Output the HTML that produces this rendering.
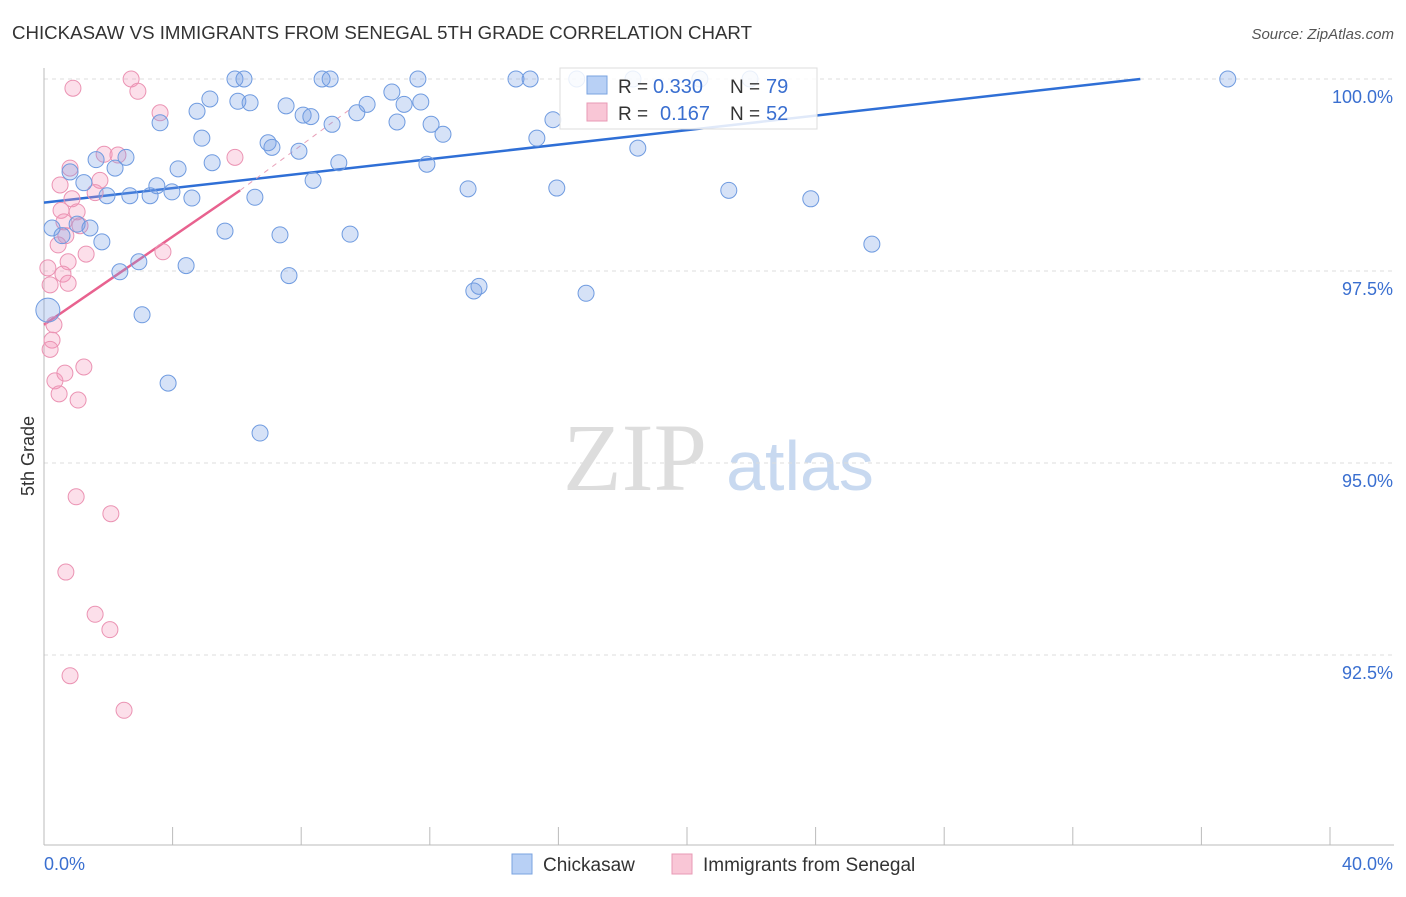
<!DOCTYPE html>
<html><head><meta charset="utf-8"><style>
body{margin:0;background:#fff;font-family:"Liberation Sans",sans-serif}
#wrap{position:relative;width:1406px;height:892px}
</style></head><body>
<div id="wrap">
<svg id="svg" width="1406" height="892" xmlns="http://www.w3.org/2000/svg">
<text x="12" y="39" font-size="18" fill="#333" textLength="740" lengthAdjust="spacingAndGlyphs">CHICKASAW VS IMMIGRANTS FROM SENEGAL 5TH GRADE CORRELATION CHART</text>
<text x="1394" y="39" font-size="15" fill="#555" text-anchor="end" font-style="italic">Source: ZipAtlas.com</text>
<text x="34" y="456" font-size="18" fill="#333" text-anchor="middle" transform="rotate(-90 34 456)">5th Grade</text>
<g><text x="635" y="490" font-size="96" font-family="Liberation Serif,serif" fill="#ddd" text-anchor="middle">ZIP</text><text x="800" y="490" font-size="70" fill="#c8d9f0" text-anchor="middle">atlas</text></g>
<g id="grid"></g><g id="axes"></g><g id="trend"></g><g id="pts"></g>
<g>
<rect x="560" y="68" width="257" height="61" fill="#fff" fill-opacity="0.85" stroke="#ddd"/>
<rect x="587" y="76" width="20" height="18" fill="#b8d0f5" stroke="#7aa3e0"/>
<rect x="587" y="103" width="20" height="18" fill="#f9c6d6" stroke="#e89ab5"/>
<text x="618" y="93" font-size="19" fill="#333">R =</text>
<text x="653" y="93" font-size="20" fill="#3a6fd0">0.330</text>
<text x="730" y="93" font-size="19" fill="#333">N =</text>
<text x="766" y="93" font-size="20" fill="#3a6fd0">79</text>
<text x="618" y="120" font-size="19" fill="#333">R =</text>
<text x="660" y="120" font-size="20" fill="#3a6fd0">0.167</text>
<text x="730" y="120" font-size="19" fill="#333">N =</text>
<text x="766" y="120" font-size="20" fill="#3a6fd0">52</text>
</g>
<g>
<rect x="512" y="854" width="20" height="20" fill="#b8d0f5" stroke="#7aa3e0"/>
<text x="543" y="871" font-size="19" fill="#333">Chickasaw</text>
<rect x="672" y="854" width="20" height="20" fill="#f9c6d6" stroke="#e89ab5"/>
<text x="703" y="871" font-size="19" fill="#333">Immigrants from Senegal</text>
</g>
</svg></div>
<script>
const yTicks=[100,97.5,95,92.5];
const yTickLabels=["100.0%","97.5%","95.0%","92.5%"];
const xTickVals=[0,4,8,12,16,20,24,28,32,36,40];
const blueX=[0.25,0.56,0.81,1.03,1.24,1.43,1.62,1.80,1.96,2.21,2.36,2.55,2.67,2.95,3.05,3.30,3.51,3.61,3.86,3.98,4.17,4.42,4.60,4.76,4.91,5.16,5.23,5.63,5.94,6.03,6.22,6.41,6.56,6.72,6.97,7.09,7.34,7.53,7.62,7.93,8.06,8.30,8.37,8.65,8.90,8.96,9.17,9.52,9.73,10.05,10.82,10.98,11.20,11.63,11.72,11.91,12.04,12.41,13.19,13.37,13.53,14.68,15.12,15.33,15.83,15.95,16.57,16.86,18.32,18.47,20.40,21.30,21.96,23.85,25.75,36.82,0.12];
const blueY=[98.06,97.96,98.79,98.11,98.65,98.06,98.95,97.88,98.48,98.84,97.49,98.98,98.48,97.62,96.93,98.48,98.61,99.43,96.04,98.53,98.83,97.57,98.45,99.58,99.23,99.74,98.91,98.02,100,99.71,100,99.69,98.46,95.39,99.17,99.11,97.97,99.65,97.44,99.06,99.53,99.51,98.68,100,100,99.41,98.91,97.98,99.56,99.67,99.83,99.44,99.67,100,99.70,98.89,99.41,99.28,98.57,97.24,97.30,100,100,99.23,99.47,98.58,100,97.21,100,99.10,100,98.55,100,98.44,97.85,100,96.99];
const pinkX=[0.90,2.71,2.92,3.61,0.81,0.50,0.87,0.53,1.03,0.62,1.12,0.68,1.31,0.75,0.59,0.75,0.44,0.12,0.19,0.25,0.19,0.34,0.65,1.24,0.47,1.06,1.00,2.08,0.68,1.59,2.05,0.81,2.49,1.87,2.30,1.74,1.59,3.70,5.94,0.31];
const pinkY=[99.88,100,99.84,99.56,98.84,98.62,98.44,98.29,98.27,98.14,98.09,97.96,97.72,97.62,97.46,97.34,97.84,97.54,97.32,96.60,96.48,96.07,96.17,96.25,95.90,95.82,94.56,94.34,93.58,93.03,92.83,92.23,91.78,99.02,99.01,98.68,98.52,97.75,98.98,96.80];
const blueTrend=[[0,98.39],[34.1,100]];
const pinkTrend=[[0,96.80],[6.1,98.55]];
const pinkTrendExt=[[6.1,98.55],[9.5,99.6]];
const NS="http://www.w3.org/2000/svg";
const X=v=>44+v/40*1286, Y=v=>79+(100-v)/2.5*192;
function mk(t,a,p){const e=document.createElementNS(NS,t);for(const k in a)e.setAttribute(k,a[k]);document.getElementById(p).appendChild(e);return e;}
yTicks.forEach((t,i)=>{
 const l=mk('line',{x1:44,x2:1394,y1:Y(t),y2:Y(t),stroke:'#ddd','stroke-dasharray':'4,4'},'grid');
 
 
 const tx=mk('text',{x:1393,y:Y(t)+24,'font-size':18,fill:'#3a6fd0','text-anchor':'end'},'axes');
 tx.textContent=yTickLabels[i];
 
 
});
const ax=mk('line',{x1:44,x2:44,y1:68,y2:845,stroke:'#bbb'},'axes');


const bx=mk('line',{x1:44,x2:1394,y1:845,y2:845,stroke:'#bbb'},'axes');


xTickVals.forEach(v=>{const t=mk('line',{x1:X(v),x2:X(v),y1:827,y2:845,stroke:'#bbb'},'axes');
 
 });
const x0=mk('text',{x:44,y:870,'font-size':18,fill:'#3a6fd0'},'axes');x0.textContent='0.0%';


const x1=mk('text',{x:1393,y:870,'font-size':18,fill:'#3a6fd0','text-anchor':'end'},'axes');x1.textContent='40.0%';


pinkX.forEach((v,i)=>{const c=mk('circle',{cx:X(v),cy:Y(pinkY[i]),r:8,fill:'rgba(245,150,185,0.3)',stroke:'#eb93b3','stroke-width':1},'pts');
 
 });
blueX.forEach((v,i)=>{const c=mk('circle',{cx:X(v),cy:Y(blueY[i]),r:i==blueX.length-1?12:8,fill:'rgba(120,160,230,0.3)',stroke:'#6f9be0','stroke-width':1},'pts');
 
 });
const bt=mk('line',{x1:X(blueTrend[0][0]),y1:Y(blueTrend[0][1]),x2:X(blueTrend[1][0]),y2:Y(blueTrend[1][1]),stroke:'#2f6fd6','stroke-width':2.5},'trend');


const pt=mk('line',{x1:X(pinkTrend[0][0]),y1:Y(pinkTrend[0][1]),x2:X(pinkTrend[1][0]),y2:Y(pinkTrend[1][1]),stroke:'#e8628f','stroke-width':2.5},'trend');


const pe=mk('line',{x1:X(pinkTrendExt[0][0]),y1:Y(pinkTrendExt[0][1]),x2:X(pinkTrendExt[1][0]),y2:Y(pinkTrendExt[1][1]),stroke:'#e8a0b8','stroke-width':1,'stroke-dasharray':'5,5'},'trend');


</script>
</body></html>
